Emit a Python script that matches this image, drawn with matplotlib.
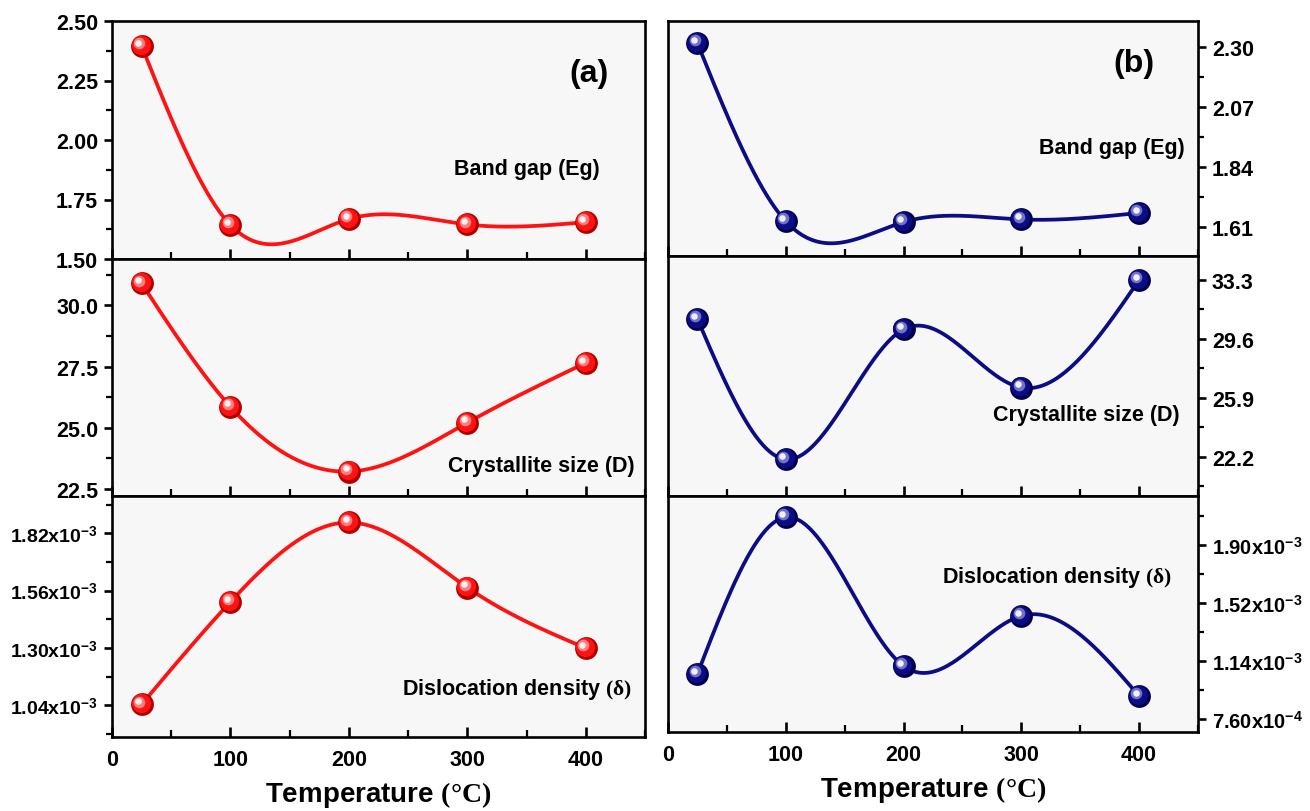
#!/usr/bin/env python3

import numpy as np
import matplotlib
matplotlib.use('Agg')
import matplotlib.pyplot as plt
from matplotlib.ticker import FixedLocator, AutoMinorLocator
from matplotlib.transforms import offset_copy

plt.rcParams['font.family'] = ['Liberation Sans', 'DejaVu Sans']
plt.rcParams['font.weight'] = 'bold'
plt.rcParams['mathtext.fontset'] = 'custom'
plt.rcParams['mathtext.rm'] = 'Liberation Serif'
plt.rcParams['mathtext.it'] = 'Liberation Serif:italic'
plt.rcParams['mathtext.bf'] = 'Liberation Sans:bold'

temps = [25, 100, 200, 300, 400]

# (a) red series
eg_a = [2.395, 1.643, 1.668, 1.645, 1.655]
size_a = [30.9, 25.85, 23.2, 25.2, 27.65]
disl_a = [1.045e-3, 1.51e-3, 1.87e-3, 1.575e-3, 1.30e-3]

# (b) blue series
eg_b = [2.315, 1.633, 1.63, 1.64, 1.665]
size_b = [30.85, 22.05, 30.2, 26.55, 33.3]
disl_b = [1.055e-3, 2.08e-3, 1.107e-3, 1.435e-3, 0.91e-3]

# tick values and labels
eg_a_ticks = [1.50, 1.75, 2.00, 2.25, 2.50]
eg_a_labels = ['1.50', '1.75', '2.00', '2.25', '2.50']
size_a_ticks = [22.5, 25.0, 27.5, 30.0]
size_a_labels = ['22.5', '25.0', '27.5', '30.0']
disl_a_ticks = [1.04e-3, 1.30e-3, 1.56e-3, 1.82e-3]
disl_a_labels = [r'1.04x10$^{\mathbf{-3}}$', r'1.30x10$^{\mathbf{-3}}$',
                 r'1.56x10$^{\mathbf{-3}}$', r'1.82x10$^{\mathbf{-3}}$']
eg_b_ticks = [1.61, 1.84, 2.07, 2.30]
eg_b_labels = ['1.61', '1.84', '2.07', '2.30']
size_b_ticks = [22.2, 25.9, 29.6, 33.3]
size_b_labels = ['22.2', '25.9', '29.6', '33.3']
disl_b_ticks = [7.6e-4, 1.14e-3, 1.52e-3, 1.90e-3]
disl_b_labels = [r'7.60x10$^{\mathbf{-4}}$', r'1.14x10$^{\mathbf{-3}}$',
                 r'1.52x10$^{\mathbf{-3}}$', r'1.90x10$^{\mathbf{-3}}$']


def spline(x, y, n=400):
	# natural cubic spline, only used to draw the smooth connecting line
	x = np.asarray(x, float)
	y = np.asarray(y, float)
	k = len(x)
	h = np.diff(x)
	A = np.zeros((k, k))
	r = np.zeros(k)
	A[0, 0] = A[-1, -1] = 1
	for i in range(1, k - 1):
		A[i, i - 1] = h[i - 1]
		A[i, i] = 2 * (h[i - 1] + h[i])
		A[i, i + 1] = h[i]
		r[i] = 3 * ((y[i + 1] - y[i]) / h[i] - (y[i] - y[i - 1]) / h[i - 1])
	c = np.linalg.solve(A, r)
	b = (y[1:] - y[:-1]) / h - h * (2 * c[:-1] + c[1:]) / 3
	d = (c[1:] - c[:-1]) / (3 * h)
	xs = np.linspace(x[0], x[-1], n)
	idx = np.clip(np.searchsorted(x, xs) - 1, 0, k - 2)
	dx = xs - x[idx]
	ys = y[idx] + b[idx] * dx + c[idx] * dx ** 2 + d[idx] * dx ** 3
	return xs, ys


def panel(fig, ax, y, color, dark, light, ticks, labels, ylim, right, text, tx, ty, ysize=15.5):
	ax.set_facecolor('#f7f7f7')
	xs, ys = spline(temps, y)
	ax.plot(xs, ys, color=color, lw=2.7, zorder=2)
	# shaded ball markers
	ax.scatter(temps, y, s=270, color=dark, lw=0, zorder=3)
	mid = offset_copy(ax.transData, fig=fig, x=-0.8, y=0.8, units='points')
	ax.scatter(temps, y, s=190, color=color, lw=0, transform=mid, zorder=4)
	soft = offset_copy(ax.transData, fig=fig, x=-2.0, y=2.0, units='points')
	ax.scatter(temps, y, s=70, color=light, lw=0, alpha=0.8, transform=soft, zorder=5)
	hl = offset_copy(ax.transData, fig=fig, x=-2.4, y=2.4, units='points')
	ax.scatter(temps, y, s=22, color='white', lw=0, alpha=0.9, transform=hl, zorder=6)

	ax.set_xlim(0, 450)
	ax.set_ylim(*ylim)
	ax.xaxis.set_major_locator(FixedLocator([0, 100, 200, 300, 400]))
	ax.xaxis.set_minor_locator(FixedLocator([50, 150, 250, 350, 450]))
	ax.set_yticks(ticks)
	ax.set_yticklabels(labels)
	ax.yaxis.set_minor_locator(AutoMinorLocator(2))
	ax.tick_params(axis='x', which='major', direction='in', length=7, width=1.9, labelsize=15.5, pad=9)
	ax.tick_params(axis='x', which='minor', direction='in', length=5, width=1.6)
	ax.tick_params(axis='y', which='major', direction='out', length=6, width=1.9, labelsize=ysize, pad=4)
	ax.tick_params(axis='y', which='minor', direction='out', length=4, width=1.6)
	if right:
		ax.yaxis.tick_right()
	for s in ax.spines.values():
		s.set_linewidth(1.9)
	ax.text(tx, ty, text, transform=ax.transAxes, ha='right', va='center',
		fontsize=15.5, fontweight='bold')


def main():
	fig = plt.figure(figsize=(13.1, 8.12), dpi=100)

	red = '#ff1212'
	red_dark = '#b00000'
	red_light = '#ff9a9a'
	blue = '#0c0c86'
	blue_dark = '#00004a'
	blue_light = '#8c8cd8'

	lx, lw = 112 / 1310, 533 / 1310
	rx, rw = 668 / 1310, 530 / 1310

	a1 = fig.add_axes([lx, 1 - 260 / 812, lw, 238 / 812])
	a2 = fig.add_axes([lx, 1 - 497 / 812, lw, 237 / 812])
	a3 = fig.add_axes([lx, 1 - 738 / 812, lw, 241 / 812])
	b1 = fig.add_axes([rx, 1 - 257 / 812, rw, 235 / 812])
	b2 = fig.add_axes([rx, 1 - 497 / 812, rw, 240 / 812])
	b3 = fig.add_axes([rx, 1 - 733 / 812, rw, 236 / 812])

	panel(fig, a1, eg_a, red, red_dark, red_light, eg_a_ticks, eg_a_labels, (1.5, 2.5), False,
		'Band gap (Eg)', 0.915, 0.38)
	panel(fig, a2, size_a, red, red_dark, red_light, size_a_ticks, size_a_labels, (22.2, 31.9), False,
		'Crystallite size (D)', 0.98, 0.13)
	panel(fig, a3, disl_a, red, red_dark, red_light, disl_a_ticks, disl_a_labels, (0.897e-3, 1.99e-3), False,
		r'Dislocation density $\mathrm{(\delta)}$', 0.975, 0.2, ysize=14)
	panel(fig, b1, eg_b, blue, blue_dark, blue_light, eg_b_ticks, eg_b_labels, (1.50, 2.40), True,
		'Band gap (Eg)', 0.975, 0.46)
	panel(fig, b2, size_b, blue, blue_dark, blue_light, size_b_ticks, size_b_labels, (19.75, 34.8), True,
		'Crystallite size (D)', 0.965, 0.34)
	panel(fig, b3, disl_b, blue, blue_dark, blue_light, disl_b_ticks, disl_b_labels, (0.675e-3, 2.219e-3), True,
		r'Dislocation density $\mathrm{(\delta)}$', 0.95, 0.66, ysize=14.5)

	for ax in [a1, a2, b1, b2]:
		ax.tick_params(axis='x', labelbottom=False)

	a1.text(0.895, 0.78, '(a)', transform=a1.transAxes, ha='center', va='center',
		fontsize=23, fontweight='bold')
	b1.text(0.88, 0.82, '(b)', transform=b1.transAxes, ha='center', va='center',
		fontsize=23, fontweight='bold')

	a3.set_xlabel(r'Temperature $\mathrm{(°C)}$', fontsize=20, fontweight='bold', labelpad=6)
	b3.set_xlabel(r'Temperature $\mathrm{(°C)}$', fontsize=20, fontweight='bold', labelpad=6)

	plt.savefig('out.png', dpi=100)


if __name__ == '__main__':
	main()
